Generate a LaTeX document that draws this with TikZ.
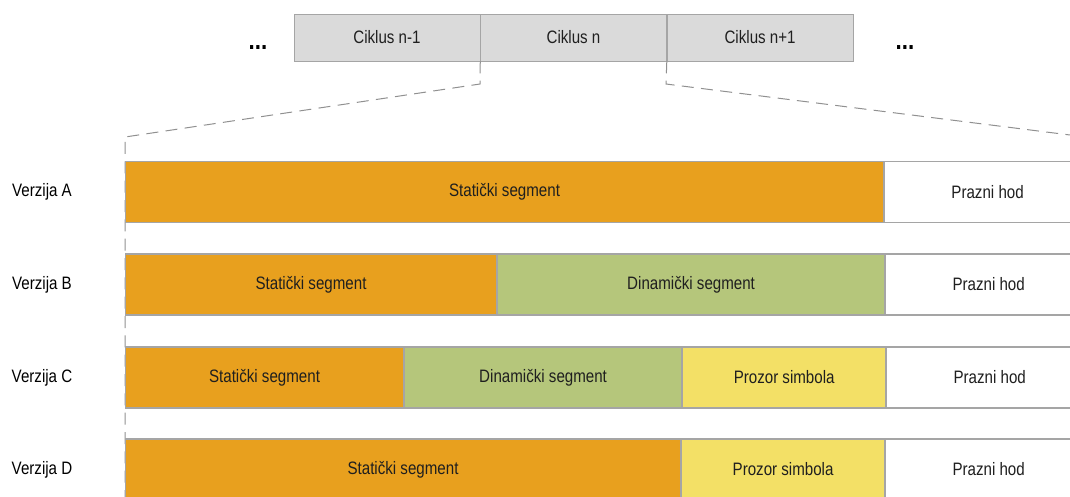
\documentclass[tikz,border=0pt]{standalone}
\usepackage{fontspec}
\setmainfont{Liberation Sans}[FakeStretch=0.84]
\usetikzlibrary{positioning}

\definecolor{statorange}{HTML}{E8A01E}
\definecolor{dyngreen}{HTML}{B5C67B}
\definecolor{symyellow}{HTML}{F3E066}
\definecolor{cyclegray}{HTML}{DADADA}
\definecolor{linegray}{HTML}{A5A5A5}
\definecolor{dashgray}{HTML}{909090}

\begin{document}
\begin{tikzpicture}[x=0.75pt, y=-0.75pt, font=\fontsize{13.5}{16}\selectfont,
    cycle/.style={draw=linegray, fill=cyclegray, minimum width=139.5pt,
        minimum height=35.25pt, inner sep=0pt, text=black!88},
    seg/.style={draw=linegray, line width=0.8pt, minimum height=45.75pt,
        inner sep=0pt, anchor=west, text=black!88},
    dots/.style={font=\fontsize{20}{22}\bfseries, anchor=base, inner sep=0pt},
    zoomline/.style={dashgray, dash pattern=on 9pt off 5.5pt, line width=0.75pt}]

    \useasboundingbox (0,0) rectangle (1070,496);

    % the three cycles on top
    \node[cycle] (cprev) at (387,37.5) {Ciklus n-1};
    \node[cycle, right=0pt of cprev] (ccur) {Ciklus n};
    \node[cycle, right=0pt of ccur] (cnext) {Ciklus n+1};
    % the dots left and right of the cycles
    \node[dots] (dotsl) at (258,49) {...};
    \node[dots] (dotsr) at (905,49) {...};

    % the dashed lines that open Ciklus n
    \coordinate (lbend) at (480,84);
    \coordinate (ltop) at (125,137);
    \coordinate (lbottom) at (125,500);
    \coordinate (rbend) at (666,84);
    \coordinate (rend) at (1070,135);
    \draw[zoomline] (ccur.south west) -- (lbend) -- (ltop) -- (lbottom);
    \draw[zoomline] (ccur.south east) -- (rbend) -- (rend);

    % the version labels on the left
    \foreach \v/\y in {A/192, B/284.5, C/377.5, D/469.5}
        \node (ver\v) at (42,\y) {Verzija \v};

    % Verzija A
    \node[seg, fill=statorange, minimum width={758*0.75pt}] (statA) at (125,192) {Statički segment};
    \node[seg, fill=white, minimum width={206*0.75pt}, right=0pt of statA] (idleA) {Prazni hod};

    % Verzija B
    \node[seg, fill=statorange, minimum width={371*0.75pt}] (statB) at (125,284.5) {Statički segment};
    \node[seg, fill=dyngreen, minimum width={387*0.75pt}, right=0pt of statB] (dynB) {Dinamički segment};
    \node[seg, fill=white, minimum width={206*0.75pt}, right=0pt of dynB] (idleB) {Prazni hod};

    % Verzija C
    \node[seg, fill=statorange, minimum width={278*0.75pt}] (statC) at (125,377.5) {Statički segment};
    \node[seg, fill=dyngreen, minimum width={277*0.75pt}, right=0pt of statC] (dynC) {Dinamički segment};
    \node[seg, fill=symyellow, minimum width={203*0.75pt}, right=0pt of dynC] (symC) {Prozor simbola};
    \node[seg, fill=white, minimum width={206*0.75pt}, right=0pt of symC] (idleC) {Prazni hod};

    % Verzija D
    \node[seg, fill=statorange, minimum width={555*0.75pt}] (statD) at (125,469.5) {Statički segment};
    \node[seg, fill=symyellow, minimum width={203*0.75pt}, right=0pt of statD] (symD) {Prozor simbola};
    \node[seg, fill=white, minimum width={206*0.75pt}, right=0pt of symD] (idleD) {Prazni hod};
\end{tikzpicture}
\end{document}
